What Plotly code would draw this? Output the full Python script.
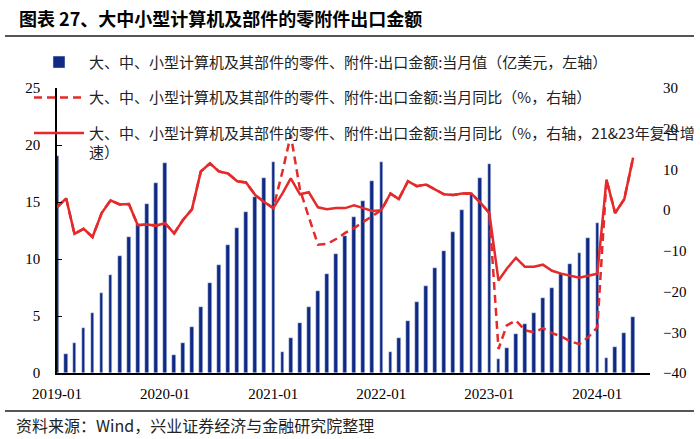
import pandas as pd
import plotly.graph_objects as go

months = pd.date_range("2019-01-01", periods=65, freq="MS")

export_value = [
    19.0, 1.67, 2.6, 3.95, 5.3, 7.0, 8.6, 10.3, 11.9, 13.1, 14.8, 16.7,
    18.4, 1.6, 2.6, 4.0, 5.8, 7.9, 9.5, 11.2, 12.7, 14.1, 15.4, 17.1,
    18.5, 1.8, 3.1, 4.4, 5.8, 7.2, 8.7, 10.4, 12.0, 13.7, 15.1, 16.8,
    18.5, 1.85, 3.1, 4.6, 6.2, 7.6, 9.2, 10.7, 12.4, 14.3, 15.8, 17.1,
    18.3, 1.2, 2.2, 3.4, 4.3, 5.3, 6.6, 7.5, 8.7, 9.6, 10.5, 11.8,
    13.2, 1.3, 2.3, 3.5, 4.9,
]

yoy = [
    0.7, 2.9, -5.8, -4.6, -6.6, -0.7, 2.4, 1.4, 1.5, -3.7, -3.5, -3.8,
    -3.2, -5.7, -2.5, 0.2, 9.5, 11.5, 9.5, 9.0, 7.1, 6.8, 3.7, 2.0,
    0.5, 9.5, 18.5, 5.1, -1.7, -8.5, -8.3, -7.1, -5.6, -4.4, -2.9, -1.5,
    0.0, 4.1, 2.7, 7.1, 5.9, 6.3, 5.1, 3.9, 3.7, 4.1, 4.1, 1.9,
    -0.7, -34.1, -28.3, -27.1, -29.5, -30.0, -29.0, -30.2, -31.0, -32.2, -32.9, -31.2,
    -28.8, 7.5, -0.7, 2.7, 12.9,
]

yoy_compound = [
    0.7, 2.9, -5.8, -4.6, -6.6, -0.7, 2.4, 1.4, 1.5, -3.7, -3.5, -3.8,
    -3.2, -5.7, -2.5, 0.2, 9.5, 11.5, 9.5, 9.0, 7.1, 6.8, 3.7, 2.0,
    0.5, 4.1, 7.8, 3.9, 4.4, 0.7, 0.2, 0.5, 0.5, 1.2, 0.5, -0.2,
    0.0, 4.1, 2.7, 7.1, 5.9, 6.3, 5.1, 3.9, 3.7, 4.1, 4.1, 1.9,
    -0.7, -17.3, -14.4, -11.7, -13.9, -13.9, -13.4, -14.9, -15.6, -16.1, -16.6, -16.1,
    -15.6, 7.5, -0.7, 2.7, 12.9,
]

name_bar = "大、中、小型计算机及其部件的零件、附件:出口金额:当月值（亿美元，左轴）"
name_dash = "大、中、小型计算机及其部件的零件、附件:出口金额:当月同比（%，右轴）"
name_solid = "大、中、小型计算机及其部件的零件、附件:出口金额:当月同比（%，右轴，21&23年复合增<br>速）"

title_text = "图表 27、大中小型计算机及部件的零附件出口金额"
source_text = "资料来源：Wind，兴业证券经济与金融研究院整理"

NAVY = "#0E2A85"
RED = "#E42A2A"
CJK = "Noto Sans CJK SC"
SERIF = "Liberation Serif"

PW = 593.0
PH = 285.0

fig = go.Figure()
fig.add_trace(go.Bar(
    x=months, y=export_value, name=name_bar, marker_color=NAVY,
    width=12 * 86400000, yaxis="y", legendgroup="a",
))
fig.add_trace(go.Scatter(
    x=months, y=yoy, name=name_dash, mode="lines",
    line=dict(color=RED, width=2.5, dash="8px,5px"), yaxis="y2", legendgroup="b",
))
fig.add_trace(go.Scatter(
    x=months, y=yoy_compound, name=name_solid, mode="lines",
    line=dict(color=RED, width=2.5), yaxis="y2", legendgroup="c",
))

fig.update_layout(
    width=700, height=439,
    margin=dict(l=57, r=50, t=88, b=66),
    paper_bgcolor="white", plot_bgcolor="white",
    bargap=0,
    showlegend=True,
    legend=dict(
        x=-0.022, y=1.148, xanchor="left", yanchor="top",
        font=dict(family=CJK, size=15, color="#222"),
        bgcolor="rgba(0,0,0,0)", traceorder="grouped", tracegroupgap=13,
        valign="top", itemwidth=50,
    ),
    xaxis=dict(
        type="date", range=["2019-01-01", "2024-06-27"],
        tickformat="%Y-%m", dtick="M12", tick0="2019-01-01",
        showline=True, linecolor="black", linewidth=2,
        showgrid=False, zeroline=False, ticks="",
        tickfont=dict(family=SERIF, size=15, color="black"),
        ticklabelstandoff=6,
    ),
    yaxis=dict(
        range=[0, 25], dtick=5, showline=True, linecolor="black", linewidth=1.5,
        showgrid=False, zeroline=False, ticks="inside", ticklen=5, tickcolor="black",
        tickfont=dict(family=SERIF, size=15, color="black"),
        ticklabelstandoff=12,
    ),
    yaxis2=dict(
        range=[-40, 30], dtick=10, overlaying="y", side="right",
        showline=False, showgrid=False, zeroline=False, ticks="",
        tickfont=dict(family=SERIF, size=15, color="black"),
        ticklabelstandoff=12,
    ),
    annotations=[
        dict(text="<b>" + title_text + "</b>", xref="paper", yref="paper",
             x=(17 - 57) / PW, y=(373 - 18) / PH, xanchor="left", yanchor="middle",
             showarrow=False, font=dict(family=CJK, size=18, color="black")),
        dict(text=source_text, xref="paper", yref="paper",
             x=(14 - 57) / PW, y=(373 - 425) / PH, xanchor="left", yanchor="middle",
             showarrow=False, font=dict(family=CJK, size=16, color="#222")),
    ],
    shapes=[
        dict(type="line", xref="paper", yref="paper",
             x0=(5 - 57) / PW, x1=(694 - 57) / PW, y0=(373 - 36) / PH, y1=(373 - 36) / PH,
             line=dict(color="#555", width=2)),
        dict(type="line", xref="paper", yref="paper",
             x0=(5 - 57) / PW, x1=(694 - 57) / PW, y0=(373 - 411) / PH, y1=(373 - 411) / PH,
             line=dict(color="#555", width=2)),
    ],
)

fig.write_html("out.html")
